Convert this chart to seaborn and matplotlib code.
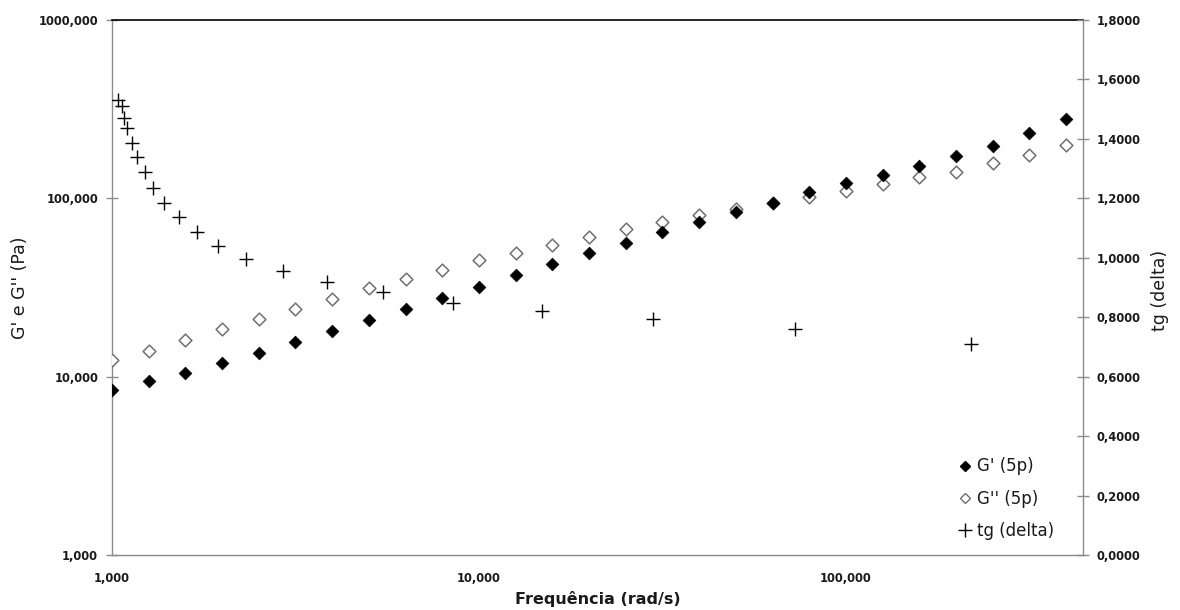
import matplotlib
matplotlib.use("Agg")
import matplotlib.pyplot as plt
import matplotlib.ticker as mticker
from matplotlib.lines import Line2D
import seaborn as sns
import pandas as pd

# ---------------- data ----------------
freq = [1.0, 1.26, 1.58, 2.0, 2.51, 3.16, 3.98, 5.01, 6.31, 7.94,
        10.0, 12.6, 15.8, 20.0, 25.1, 31.6, 39.8, 50.1, 63.1, 79.4,
        100.0, 126.0, 158.0, 200.0, 251.0, 316.0, 398.0]
g_storage = [8.42, 9.46, 10.5, 11.9, 13.6, 15.7, 18.0, 20.8, 24.0, 27.6,
             31.8, 37.2, 42.9, 49.4, 56.2, 64.8, 73.8, 83.9, 94.2, 108.6,
             122.0, 135.0, 152.0, 173.0, 197.0, 233.0, 279.0]
g_loss = [12.4, 13.9, 16.1, 18.4, 21.0, 24.0, 27.3, 31.4, 35.5, 39.8,
          45.0, 49.4, 54.8, 60.7, 67.3, 73.8, 80.7, 87.3, 94.2, 102.0,
          110.0, 120.0, 132.0, 141.0, 158.0, 175.0, 199.0]
tg_freq = [1.040, 1.063, 1.078, 1.101, 1.134, 1.170, 1.230, 1.293, 1.388,
           1.525, 1.708, 1.945, 2.318, 2.918, 3.846, 5.49, 8.51, 14.88,
           29.85, 72.6, 219.0]
tg_delta = [1.531, 1.511, 1.469, 1.436, 1.387, 1.340, 1.290, 1.234, 1.184,
            1.138, 1.086, 1.040, 0.995, 0.956, 0.918, 0.884, 0.849, 0.820,
            0.793, 0.759, 0.710]

x_ticks = [1, 10, 100]
x_tick_labels = ["1,000", "10,000", "100,000"]
y_ticks = [1, 10, 100, 1000]
y_tick_labels = ["1,000", "10,000", "100,000", "1000,000"]
y2_ticks = [0.0, 0.2, 0.4, 0.6, 0.8, 1.0, 1.2, 1.4, 1.6, 1.8]
y2_tick_labels = ["0,0000", "0,2000", "0,4000", "0,6000", "0,8000",
                  "1,0000", "1,2000", "1,4000", "1,6000", "1,8000"]

series_names = ["G' (5p)", "G'' (5p)", "tg (delta)"]
x_label = "Frequência (rad/s)"
y_label = "G' e G'' (Pa)"
y2_label = "tg (delta)"

df_g = pd.DataFrame({"freq": freq, "gs": g_storage, "gl": g_loss})
df_tg = pd.DataFrame({"freq": tg_freq, "tg": tg_delta})

# ---------------- figure ----------------
sns.set_style("white")
plt.rcParams["font.family"] = ["DejaVu Sans"]

fig = plt.figure(figsize=(11.8, 6.1), dpi=100)
L, R, T, B = 112, 1083, 20, 555
ax = fig.add_axes([L / 1180, (610 - B) / 610, (R - L) / 1180, (B - T) / 610])
ax2 = ax.twinx()

grey = "#8c8c8c"
ms_d = 42

sns.scatterplot(data=df_g, x="freq", y="gl", ax=ax, marker="D", s=ms_d,
                facecolor="white", edgecolor="#707070", linewidth=1.1,
                zorder=3, legend=False)
sns.scatterplot(data=df_g, x="freq", y="gs", ax=ax, marker="D", s=ms_d,
                color="black", edgecolor="black", linewidth=0.5,
                zorder=4, legend=False)
sns.scatterplot(data=df_tg, x="freq", y="tg", ax=ax2, marker="+", s=95,
                color="black", linewidth=1.0, zorder=5, legend=False)

ax.set_xscale("log")
ax.set_yscale("log")
ax.set_xlim(1, 10 ** ((R - L) / 367.0))
ax.set_ylim(1, 1000)
ax2.set_ylim(0, 1.8)

ax.xaxis.set_major_locator(mticker.FixedLocator(x_ticks))
ax.xaxis.set_major_formatter(mticker.FixedFormatter(x_tick_labels))
ax.xaxis.set_minor_locator(mticker.NullLocator())
ax.yaxis.set_major_locator(mticker.FixedLocator(y_ticks))
ax.yaxis.set_major_formatter(mticker.FixedFormatter(y_tick_labels))
ax.yaxis.set_minor_locator(mticker.NullLocator())
ax2.yaxis.set_major_locator(mticker.FixedLocator(y2_ticks))
ax2.yaxis.set_major_formatter(mticker.FixedFormatter(y2_tick_labels))

tick_kw = dict(direction="inout", length=8, width=1, color=grey,
               labelcolor="#1a1a1a", labelsize=8.3)
ax.tick_params(axis="x", pad=8, **tick_kw)
ax.tick_params(axis="y", pad=6, **tick_kw)
ax2.tick_params(axis="y", pad=6, **tick_kw)
for lab in ax.get_xticklabels() + ax.get_yticklabels() + ax2.get_yticklabels():
    lab.set_fontweight("bold")

for sp in ["left", "bottom"]:
    ax.spines[sp].set_color(grey)
    ax.spines[sp].set_linewidth(1)
ax.spines["top"].set_color("black")
ax.spines["top"].set_linewidth(1.2)
ax.spines["right"].set_visible(False)
ax2.spines["right"].set_color(grey)
ax2.spines["right"].set_linewidth(1)
for sp in ["left", "bottom", "top"]:
    ax2.spines[sp].set_visible(False)

ax.set_xlabel("")
ax.set_ylabel("")
ax2.set_ylabel("")
fig.text(598 / 1180, 1 - 599 / 610, x_label, ha="center", va="center",
         fontsize=11.5, fontweight="bold", color="#1a1a1a")
fig.text(20 / 1180, 1 - 288 / 610, y_label, ha="center", va="center",
         rotation=90, fontsize=12.5, color="#1a1a1a")
fig.text(1160 / 1180, 1 - 290 / 610, y2_label, ha="center", va="center",
         rotation=90, fontsize=12.5, color="#1a1a1a")

handles = [
    Line2D([], [], ls="none", marker="D", ms=5, mfc="black", mec="black"),
    Line2D([], [], ls="none", marker="D", ms=5, mfc="white", mec="#707070", mew=1),
    Line2D([], [], ls="none", marker="+", ms=10, color="black", mew=1),
]
leg = ax2.legend(handles, series_names, loc="lower left",
                 bbox_to_anchor=(950 / 1180, (610 - 548) / 610),
                 bbox_transform=fig.transFigure, frameon=False,
                 fontsize=12, handlelength=0.8, handletextpad=0.3,
                 labelspacing=0.85, borderpad=0)
for t in leg.get_texts():
    t.set_color("#1a1a1a")

fig.savefig("out.png", dpi=100)
